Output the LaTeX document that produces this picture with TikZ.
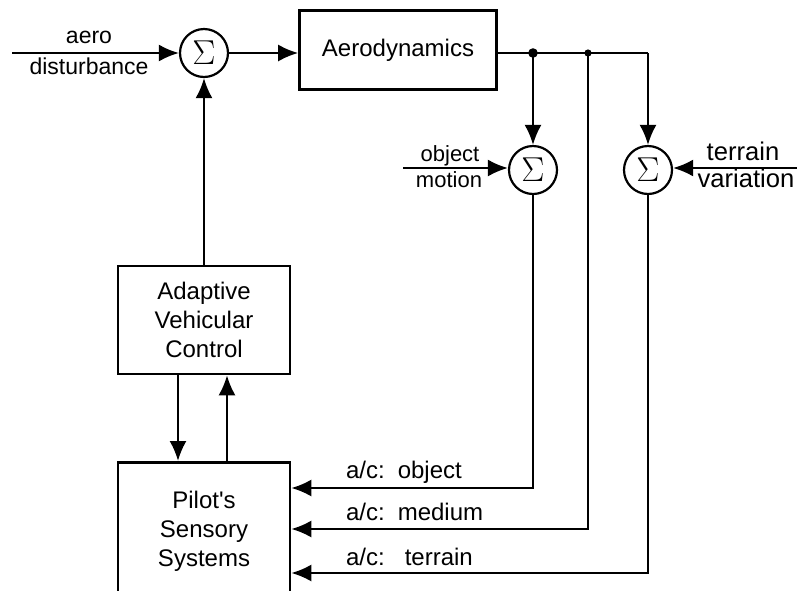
\documentclass[tikz,border=0pt]{standalone}
\usepackage{fontspec}
\setmainfont{Liberation Sans}
\usetikzlibrary{arrows.meta,calc}

\begin{document}
\begin{tikzpicture}[x=0.5pt,y=-0.5pt,line width=1.1pt,
		  every node/.style={font=\fontsize{12}{14.5}\selectfont},
		  block/.style={draw,line width=1.3pt,align=center,inner sep=0pt},
		  sum/.style={draw,circle,minimum size=24pt,inner sep=0pt,font=\fontsize{16.5}{16.5}\selectfont},
		  arr/.style={-{Latex[length=10pt,width=8.5pt]}},
		  lbl/.style={font=\fontsize{12}{14}\selectfont,inner sep=0pt,anchor=base},
		  small/.style={lbl,font=\fontsize{11}{13}\selectfont},
		  wide/.style={lbl,font=\fontsize{12.8}{14}\selectfont}]
		  \useasboundingbox (0,0) rectangle (797,590);
		  \clip (0,0) rectangle (797,590);

		  \node[sum] (sum1) at (204,53) {$\Sigma$};
		  \node[block,minimum width=98.5pt,minimum height=39.5pt] (aero) at (398,50) {Aerodynamics};
		  \node[sum] (sum2) at (533,170) {$\Sigma$};
		  \node[sum] (sum3) at (648,170) {$\Sigma$};
		  \node[block,minimum width=86pt,minimum height=54pt] (avc) at (204,320) {Adaptive\\Vehicular\\Control};
		  \node[block,minimum width=86pt,minimum height=69pt,anchor=north] (pss) at (204,461) {Pilot\textquotesingle s\\Sensory\\Systems};

		  \coordinate (aeroin) at (12,53);
		  \coordinate (objin) at (403,168);
		  \coordinate (terin) at (797,168);
		  \coordinate (tap1) at (533,53);
		  \coordinate (tap2) at (588,53);
		  \coordinate (tap3) at (648,53);

		  \node[lbl,font=\fontsize{11.5}{13}\selectfont] (aerotxt1) at (89,43) {aero};
		  \node[lbl,font=\fontsize{11.5}{13}\selectfont] (aerotxt2) at (89,74) {disturbance};
		  \node[small] (objtxt1) at (450,161) {object};
		  \node[small] (objtxt2) at (449,187) {motion};
		  \node[wide] (tertxt1) at (743,160) {terrain};
		  \node[wide] (tertxt2) at (746,187) {variation};

		  \draw[arr] (aeroin) -- (sum1);
		  \draw[arr] (sum1) -- (sum1 -| aero.west);
		  \draw (aero.east |- tap1) -- (tap3);
		  \draw[arr] (tap1) -- (sum2);
		  \draw[arr] (tap3) -- (sum3);
		  \fill (tap1) circle (2.4pt);
		  \fill (tap2) circle (1.8pt);
		  \draw[arr] (objin) -- (objin -| sum2.west);
		  \draw[arr] (terin) -- (terin -| sum3.east);
		  \draw[arr] (avc) -- (sum1);
		  \draw[arr] ([xshift=-13pt]avc.south) -- ([xshift=-13pt]pss.north);
		  \draw[arr] ([xshift=11.5pt]pss.north) -- ([xshift=11.5pt]avc.south);

		  \draw[arr] (sum2.south) |- ($(pss.north east)+(0,27)$);
		  \draw[arr] (tap2) |- ($(pss.north east)+(0,68)$);
		  \draw[arr] (sum3.south) |- ($(pss.north east)+(0,112)$);
		  \node[lbl,anchor=base west] (fb1) at (345,478) {a/c:\hspace{6.5pt}object};
		  \node[lbl,anchor=base west] (fb2) at (345,520) {a/c:\hspace{6.5pt}medium};
		  \node[lbl,anchor=base west] (fb3) at (345,565) {a/c:\hspace{10pt}terrain};
\end{tikzpicture}
\end{document}
